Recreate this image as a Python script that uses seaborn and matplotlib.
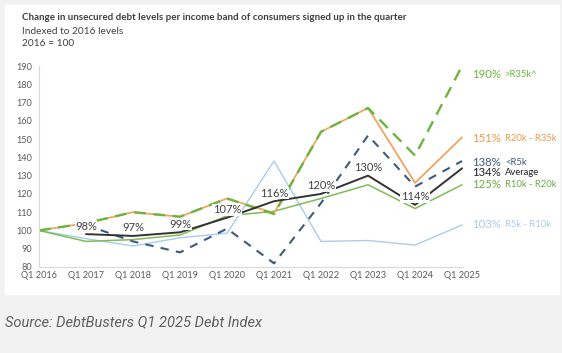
import numpy as np
import pandas as pd
import matplotlib
matplotlib.use('Agg')
import matplotlib.pyplot as plt
import seaborn as sns
from matplotlib.patches import Rectangle

quarters = ['Q1 2016', 'Q1 2017', 'Q1 2018', 'Q1 2019', 'Q1 2020',
            'Q1 2021', 'Q1 2022', 'Q1 2023', 'Q1 2024', 'Q1 2025']
gt_r35k = [100, 104, 110, 107.5, 117.5, 109, 154, 167, 141, 190]
r20k_r35k = [100, 104, 110, 107.5, 117.5, 109.5, 154, 167, 126, 151]
r10k_r20k = [100, 94, 95, 97.5, 108, 110.5, 117.5, 125, 112, 125]
r5k_r10k = [100, 95.5, 91.5, 96, 98.5, 138, 94, 94.5, 92, 103]
under_r5k = [np.nan, 103, 94, 88, 101, 82, 115, 152, 124, 138]
average = [np.nan, 98, 97, 99, 107, 116, 120, 130, 114, 134]

sns.set_style('white')
plt.rcParams['font.family'] = ['Lato', 'DejaVu Sans']

fig = plt.figure(figsize=(5.62, 3.53), dpi=100, facecolor='#f2f2f2')
fig.patches.append(Rectangle((5 / 562, 59 / 353), 554 / 562, 289 / 353,
                             transform=fig.transFigure, color='white', zorder=-1))
ax = fig.add_axes([39 / 562, 86 / 353, 424 / 562, 201 / 353])
ax.set_facecolor('none')

x = np.arange(len(quarters))
# name, values, colour, width, dashes, label colour, label offset (px down)
series = [
    ('R5k - R10k', r5k_r10k, '#a9cbee', 1.0, None, '#a9cbee', 0),
    ('R10k - R20k', r10k_r20k, '#7cbd55', 1.1, None, '#6aab45', 0),
    ('R20k - R35k', r20k_r35k, '#f2a560', 1.3, None, '#ee9a4c', 1),
    ('>R35k^', gt_r35k, '#6cb43f', 1.7, (5, 3.2), '#6cb43f', 8),
    ('<R5k', under_r5k, '#3d5a80', 1.5, (4, 3.5), '#3d5a80', 1),
    ('Average', average, '#333333', 1.4, None, '#222222', 4),
]

for name, vals, col, lw, dash, lcol, off in series:
    df = pd.DataFrame({'x': x, 'y': vals}).dropna()
    sns.lineplot(data=df, x='x', y='y', color=col, linewidth=lw, ax=ax)
    if dash:
        ax.lines[-1].set_dashes(dash)
    last = vals[-1]
    ax.annotate(f'{last:.0f}%', xy=(9, last), xytext=(10, -off),
                textcoords='offset pixels', color=lcol, fontsize=8.2,
                va='center', ha='left', annotation_clip=False)
    ax.annotate(name, xy=(9, last), xytext=(43, -off),
                textcoords='offset pixels', color=lcol, fontsize=6.8,
                va='center', ha='left', annotation_clip=False)

# average data labels with white boxes
for i in range(1, 9):
    ax.annotate(f'{average[i]:.0f}%', xy=(i, average[i]), xytext=(0, 8),
                textcoords='offset pixels', ha='center', va='center',
                fontsize=8, color='#404040', zorder=5,
                bbox=dict(boxstyle='square,pad=0.05', fc='white', ec='none'))

ax.set_xlim(0, 9.02)
ax.set_ylim(80, 190)
ax.set_yticks(range(80, 191, 10))
ax.set_xticks(x)
ax.set_xticklabels(quarters)
ax.set_xlabel('')
ax.set_ylabel('')
ax.tick_params(axis='both', labelsize=6.6, colors='#595959', length=0, pad=3)
ax.tick_params(axis='y', length=3, color='#d9d9d9', direction='out', pad=2)
for s in ['top', 'right']:
    ax.spines[s].set_visible(False)
for s in ['left', 'bottom']:
    ax.spines[s].set_color('#d9d9d9')
    ax.spines[s].set_linewidth(0.8)

fig.text(22 / 562, 1 - 17 / 353, 'Change in unsecured debt levels per income band of consumers signed up in the quarter',
         fontsize=7.1, fontweight='bold', color='#404040', va='center')
fig.text(22 / 562, 1 - 31 / 353, 'Indexed to 2016 levels', fontsize=7.3, color='#404040', va='center')
fig.text(22 / 562, 1 - 44 / 353, '2016 = 100', fontsize=7.3, color='#404040', va='center')
fig.text(5 / 562, 1 - 322 / 353, 'Source: DebtBusters Q1 2025 Debt Index', fontsize=10.5,
         family='Roboto', style='italic', color='#606060', va='center')

fig.savefig('out.png', dpi=100, facecolor=fig.get_facecolor())
